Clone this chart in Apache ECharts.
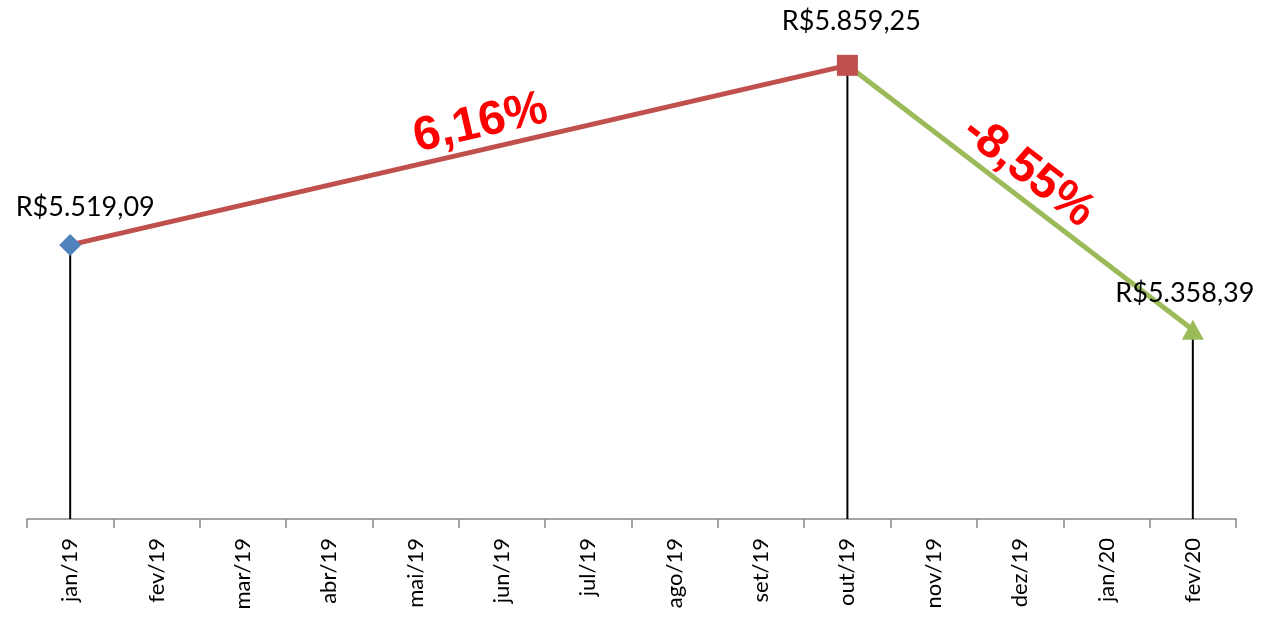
<!DOCTYPE html>
<html>
<head>
<meta charset="utf-8">
<script src="https://cdn.jsdelivr.net/npm/echarts@6/dist/echarts.min.js"></script>
<style>
  html, body { margin: 0; padding: 0; background: #fff; }
  #chart { width: 1261px; height: 617px; }
</style>
</head>
<body>
<div id="chart"></div>
<script>
// meses do eixo
const months = ['jan/19', 'fev/19', 'mar/19', 'abr/19', 'mai/19', 'jun/19', 'jul/19',
  'ago/19', 'set/19', 'out/19', 'nov/19', 'dez/19', 'jan/20', 'fev/20'];
// valores (só três pontos)
const rise = [5519.09, '-', '-', '-', '-', '-', '-', '-', '-', 5859.25, '-', '-', '-', '-'];
const fall = ['-', '-', '-', '-', '-', '-', '-', '-', '-', 5859.25, '-', '-', '-', 5358.39];
const drops = [5519.09, '-', '-', '-', '-', '-', '-', '-', '-', 5859.25, '-', '-', '-', 5358.39];
const pctRise = '6,16%';
const pctFall = '-8,55%';

const brl = v => 'R$' + v.toFixed(2).replace('.', ',').replace(/\B(?=(\d{3})+(?!\d))/g, '.');

const chart = echarts.init(document.getElementById('chart'));
const labelFont = { fontFamily: 'Lato', fontSize: 27, color: '#000' };
const pctLabel = {
  show: true, position: 'insideMiddleTop', distance: 2,
  color: '#FF0000', fontFamily: 'Liberation Sans', fontWeight: 'bold', fontSize: 48
};

chart.setOption({
  animation: false,
  grid: { left: 27, right: 25, top: 0, bottom: 98 },
  xAxis: {
    type: 'category',
    data: months,
    boundaryGap: true,
    axisLine: { lineStyle: { color: '#888', width: 1.5 } },
    axisTick: { show: true, length: 9, lineStyle: { color: '#888', width: 1.5 } },
    axisLabel: { rotate: 90, color: '#000', fontFamily: 'Lato', fontSize: 22, margin: 19 }
  },
  yAxis: {
    type: 'value',
    min: 5000,
    max: 5983,
    show: false,
    splitLine: { show: false }
  },
  series: [
    {
      type: 'bar',
      data: drops,
      barWidth: 2,
      itemStyle: { color: '#000' },
      z: 1
    },
    {
      type: 'line',
      connectNulls: true,
      lineStyle: { color: '#C0504D', width: 5 },
      itemStyle: { color: '#C0504D' },
      symbol: 'rect',
      symbolSize: 21,
      z: 3,
      data: rise.map((v, i) => {
        if (v === '-') return v;
        if (i === 0) {
          return {
            value: v, symbol: 'diamond', symbolSize: 22,
            itemStyle: { color: '#4F81BD' },
            label: { show: true, position: 'top', offset: [15, -8], formatter: () => brl(v), ...labelFont }
          };
        }
        return {
          value: v,
          label: { show: true, position: 'top', offset: [4, -15], formatter: () => brl(v), ...labelFont }
        };
      }),
      markLine: {
        silent: true,
        symbol: 'none',
        lineStyle: { width: 1, color: 'rgba(0,0,0,0)', type: 'solid' },
        label: { ...pctLabel, formatter: pctRise, offset: [28, 0] },
        data: [[{ coord: [0, rise[0]] }, { coord: [9, rise[9]] }]]
      }
    },
    {
      type: 'line',
      connectNulls: true,
      lineStyle: { color: '#9BBB59', width: 5 },
      itemStyle: { color: '#9BBB59' },
      symbol: 'none',
      z: 2,
      data: fall.map((v, i) => {
        if (v === '-' || i !== 13) return v;
        return {
          value: v, symbol: 'triangle', symbolSize: [22, 20],
          label: { show: true, position: 'top', offset: [-8, -8], formatter: () => brl(v), ...labelFont }
        };
      }),
      markLine: {
        silent: true,
        symbol: 'none',
        lineStyle: { width: 1, color: 'rgba(0,0,0,0)', type: 'solid' },
        label: { ...pctLabel, formatter: pctFall, offset: [-8, 0] },
        data: [[{ coord: [9, fall[9]] }, { coord: [13, fall[13]] }]]
      }
    }
  ]
});
</script>
</body>
</html>
